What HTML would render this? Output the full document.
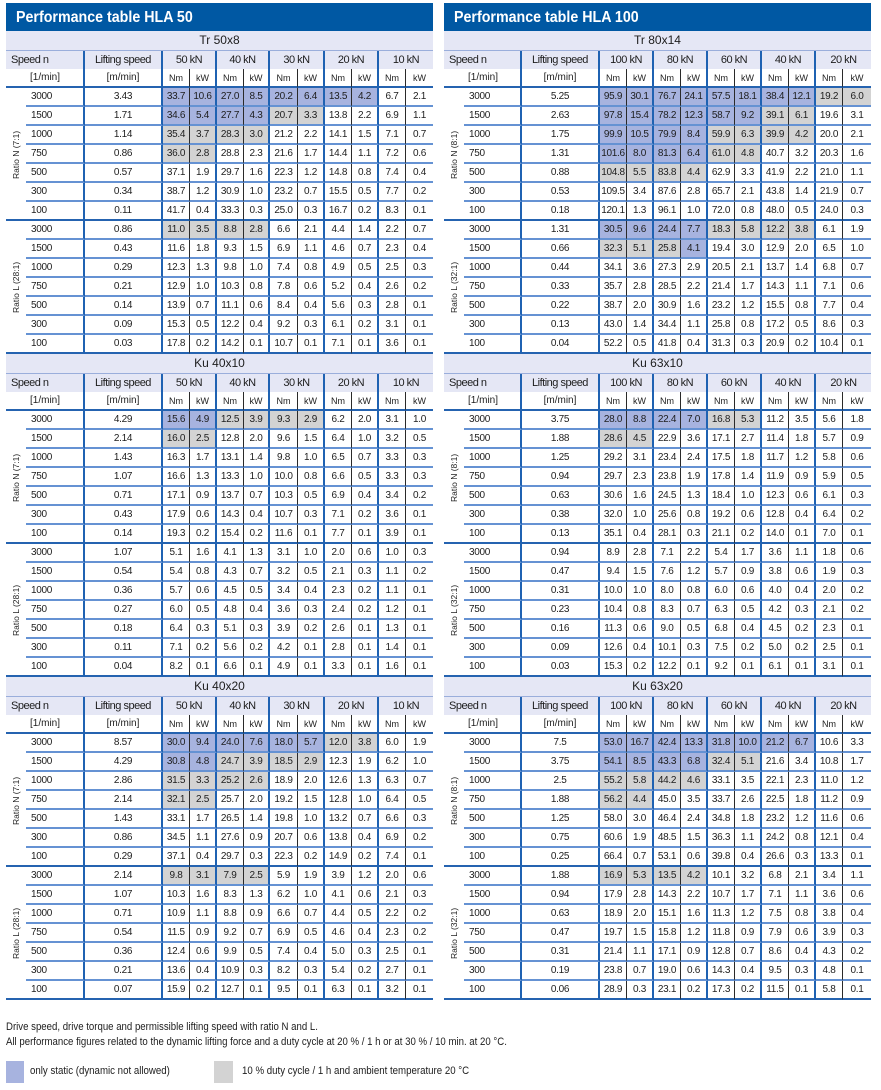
<!DOCTYPE html>
<html><head><meta charset="utf-8"><style>
html,body{margin:0;padding:0}
body{width:881px;height:1090px;overflow:hidden;background:#fff;position:relative;font-family:"Liberation Sans",Arial,sans-serif;color:#1d1d1d}
.T{position:absolute;top:3px;width:427px}
.L{left:6px}.R{left:444px}
.h{height:28px;background:#0058a3;color:#fff;font-weight:bold;font-size:16px;line-height:29px;padding-left:10px;box-sizing:border-box;white-space:nowrap}
.h span{display:inline-block;transform:scaleX(.89);transform-origin:left center}
.s{height:19px;background:#e5e7f5;text-align:center;font-size:12px;line-height:19px}
.hd,.u,.r{display:grid;height:19px}
.L .hd,.L .u,.L .r{grid-template-columns:20px 59px 78px 27px 27px 27px 26px 28px 27px 27px 27px 27px 27px}
.R .hd,.R .u,.R .r{grid-template-columns:20px 58px 78px 27px 27px 27px 27px 27px 27px 27px 27px 27px 28px}
.hd{background:#e5e7f5;border-top:1px solid #9aaedb;box-sizing:border-box;font-size:11px;letter-spacing:-.5px;line-height:18px}
.hd>*{font-style:normal;grid-column:span 2;text-align:center;border-right:2px solid #1f62b2}
.hd>:first-child{text-align:left;padding-left:5px}
.hd>:nth-child(2){grid-column:span 1}
.hd>:last-child{border-right:none}
.u>*,.r>*{font-style:normal;font-weight:normal;text-decoration:none;box-sizing:border-box;height:19px;text-align:center;white-space:nowrap;overflow:visible}
.u>*{border-bottom:2px solid #2563b0;font-size:9px;line-height:18px}
.u>:nth-child(2),.u>:nth-child(3){font-size:10px}
.u>:nth-child(2){text-align:left;padding-left:4px}
.r>*{border-bottom:2px solid #6592d3;font-size:10px;line-height:18px;letter-spacing:-.3px}
.r>:first-child{border-bottom:none}
.g>.r:last-child>*{border-bottom:2px solid #2563b0}
.r>:nth-child(2){text-align:left;padding-left:5px}
.u>:nth-child(2),.u>:nth-child(3),.u>:nth-child(5),.u>:nth-child(7),.u>:nth-child(9),.u>:nth-child(11),
.r>:nth-child(2),.r>:nth-child(3),.r>:nth-child(5),.r>:nth-child(7),.r>:nth-child(9),.r>:nth-child(11){border-right:2px solid #1f62b2}
.u>:nth-child(4),.u>:nth-child(6),.u>:nth-child(8),.u>:nth-child(10),.u>:nth-child(12),
.r>:nth-child(4),.r>:nth-child(6),.r>:nth-child(8),.r>:nth-child(10),.r>:nth-child(12){border-right:1px solid #2a2a2a}
.r>b{background:#a7b3df}
.r>s{background:#d3d3d3}
.g{position:relative}
.rl{position:absolute;left:0;top:0;width:20px;height:133px;display:flex;align-items:center;justify-content:center;writing-mode:vertical-rl;transform:rotate(180deg);font-size:8.5px;white-space:nowrap;color:#222}
.fn{position:absolute;left:6px;font-size:11px;line-height:15px;white-space:nowrap;transform:scaleX(.875);transform-origin:left center}
.sq{position:absolute;top:1061px;height:22px}
.lg{position:absolute;top:1063px;font-size:11px;line-height:16px;white-space:nowrap;transform:scaleX(.88);transform-origin:left center}
</style></head><body>

<div class="T L">
<div class="h"><span>Performance table HLA 50</span></div>

<div class="s">Tr 50x8</div>
<div class="hd"><i>Speed n</i><i>Lifting speed</i><i>50 kN</i><i>40 kN</i><i>30 kN</i><i>20 kN</i><i>10 kN</i></div>
<div class="u"><i></i><i>[1/min]</i><i>[m/min]</i><i>Nm</i><i>kW</i><i>Nm</i><i>kW</i><i>Nm</i><i>kW</i><i>Nm</i><i>kW</i><i>Nm</i><i>kW</i></div>
<div class="g"><span class="rl">Ratio N (7:1)</span>
<div class="r"><i></i><i>3000</i><i>3.43</i><b>33.7</b><b>10.6</b><b>27.0</b><b>8.5</b><b>20.2</b><b>6.4</b><b>13.5</b><b>4.2</b><i>6.7</i><i>2.1</i></div>
<div class="r"><i></i><i>1500</i><i>1.71</i><b>34.6</b><b>5.4</b><b>27.7</b><b>4.3</b><s>20.7</s><s>3.3</s><i>13.8</i><i>2.2</i><i>6.9</i><i>1.1</i></div>
<div class="r"><i></i><i>1000</i><i>1.14</i><s>35.4</s><s>3.7</s><s>28.3</s><s>3.0</s><i>21.2</i><i>2.2</i><i>14.1</i><i>1.5</i><i>7.1</i><i>0.7</i></div>
<div class="r"><i></i><i>750</i><i>0.86</i><s>36.0</s><s>2.8</s><i>28.8</i><i>2.3</i><i>21.6</i><i>1.7</i><i>14.4</i><i>1.1</i><i>7.2</i><i>0.6</i></div>
<div class="r"><i></i><i>500</i><i>0.57</i><i>37.1</i><i>1.9</i><i>29.7</i><i>1.6</i><i>22.3</i><i>1.2</i><i>14.8</i><i>0.8</i><i>7.4</i><i>0.4</i></div>
<div class="r"><i></i><i>300</i><i>0.34</i><i>38.7</i><i>1.2</i><i>30.9</i><i>1.0</i><i>23.2</i><i>0.7</i><i>15.5</i><i>0.5</i><i>7.7</i><i>0.2</i></div>
<div class="r"><i></i><i>100</i><i>0.11</i><i>41.7</i><i>0.4</i><i>33.3</i><i>0.3</i><i>25.0</i><i>0.3</i><i>16.7</i><i>0.2</i><i>8.3</i><i>0.1</i></div>
</div>
<div class="g"><span class="rl">Ratio L (28:1)</span>
<div class="r"><i></i><i>3000</i><i>0.86</i><s>11.0</s><s>3.5</s><s>8.8</s><s>2.8</s><i>6.6</i><i>2.1</i><i>4.4</i><i>1.4</i><i>2.2</i><i>0.7</i></div>
<div class="r"><i></i><i>1500</i><i>0.43</i><i>11.6</i><i>1.8</i><i>9.3</i><i>1.5</i><i>6.9</i><i>1.1</i><i>4.6</i><i>0.7</i><i>2.3</i><i>0.4</i></div>
<div class="r"><i></i><i>1000</i><i>0.29</i><i>12.3</i><i>1.3</i><i>9.8</i><i>1.0</i><i>7.4</i><i>0.8</i><i>4.9</i><i>0.5</i><i>2.5</i><i>0.3</i></div>
<div class="r"><i></i><i>750</i><i>0.21</i><i>12.9</i><i>1.0</i><i>10.3</i><i>0.8</i><i>7.8</i><i>0.6</i><i>5.2</i><i>0.4</i><i>2.6</i><i>0.2</i></div>
<div class="r"><i></i><i>500</i><i>0.14</i><i>13.9</i><i>0.7</i><i>11.1</i><i>0.6</i><i>8.4</i><i>0.4</i><i>5.6</i><i>0.3</i><i>2.8</i><i>0.1</i></div>
<div class="r"><i></i><i>300</i><i>0.09</i><i>15.3</i><i>0.5</i><i>12.2</i><i>0.4</i><i>9.2</i><i>0.3</i><i>6.1</i><i>0.2</i><i>3.1</i><i>0.1</i></div>
<div class="r"><i></i><i>100</i><i>0.03</i><i>17.8</i><i>0.2</i><i>14.2</i><i>0.1</i><i>10.7</i><i>0.1</i><i>7.1</i><i>0.1</i><i>3.6</i><i>0.1</i></div>
</div>

<div class="s">Ku 40x10</div>
<div class="hd"><i>Speed n</i><i>Lifting speed</i><i>50 kN</i><i>40 kN</i><i>30 kN</i><i>20 kN</i><i>10 kN</i></div>
<div class="u"><i></i><i>[1/min]</i><i>[m/min]</i><i>Nm</i><i>kW</i><i>Nm</i><i>kW</i><i>Nm</i><i>kW</i><i>Nm</i><i>kW</i><i>Nm</i><i>kW</i></div>
<div class="g"><span class="rl">Ratio N (7:1)</span>
<div class="r"><i></i><i>3000</i><i>4.29</i><b>15.6</b><b>4.9</b><s>12.5</s><s>3.9</s><s>9.3</s><s>2.9</s><i>6.2</i><i>2.0</i><i>3.1</i><i>1.0</i></div>
<div class="r"><i></i><i>1500</i><i>2.14</i><s>16.0</s><s>2.5</s><i>12.8</i><i>2.0</i><i>9.6</i><i>1.5</i><i>6.4</i><i>1.0</i><i>3.2</i><i>0.5</i></div>
<div class="r"><i></i><i>1000</i><i>1.43</i><i>16.3</i><i>1.7</i><i>13.1</i><i>1.4</i><i>9.8</i><i>1.0</i><i>6.5</i><i>0.7</i><i>3.3</i><i>0.3</i></div>
<div class="r"><i></i><i>750</i><i>1.07</i><i>16.6</i><i>1.3</i><i>13.3</i><i>1.0</i><i>10.0</i><i>0.8</i><i>6.6</i><i>0.5</i><i>3.3</i><i>0.3</i></div>
<div class="r"><i></i><i>500</i><i>0.71</i><i>17.1</i><i>0.9</i><i>13.7</i><i>0.7</i><i>10.3</i><i>0.5</i><i>6.9</i><i>0.4</i><i>3.4</i><i>0.2</i></div>
<div class="r"><i></i><i>300</i><i>0.43</i><i>17.9</i><i>0.6</i><i>14.3</i><i>0.4</i><i>10.7</i><i>0.3</i><i>7.1</i><i>0.2</i><i>3.6</i><i>0.1</i></div>
<div class="r"><i></i><i>100</i><i>0.14</i><i>19.3</i><i>0.2</i><i>15.4</i><i>0.2</i><i>11.6</i><i>0.1</i><i>7.7</i><i>0.1</i><i>3.9</i><i>0.1</i></div>
</div>
<div class="g"><span class="rl">Ratio L (28:1)</span>
<div class="r"><i></i><i>3000</i><i>1.07</i><i>5.1</i><i>1.6</i><i>4.1</i><i>1.3</i><i>3.1</i><i>1.0</i><i>2.0</i><i>0.6</i><i>1.0</i><i>0.3</i></div>
<div class="r"><i></i><i>1500</i><i>0.54</i><i>5.4</i><i>0.8</i><i>4.3</i><i>0.7</i><i>3.2</i><i>0.5</i><i>2.1</i><i>0.3</i><i>1.1</i><i>0.2</i></div>
<div class="r"><i></i><i>1000</i><i>0.36</i><i>5.7</i><i>0.6</i><i>4.5</i><i>0.5</i><i>3.4</i><i>0.4</i><i>2.3</i><i>0.2</i><i>1.1</i><i>0.1</i></div>
<div class="r"><i></i><i>750</i><i>0.27</i><i>6.0</i><i>0.5</i><i>4.8</i><i>0.4</i><i>3.6</i><i>0.3</i><i>2.4</i><i>0.2</i><i>1.2</i><i>0.1</i></div>
<div class="r"><i></i><i>500</i><i>0.18</i><i>6.4</i><i>0.3</i><i>5.1</i><i>0.3</i><i>3.9</i><i>0.2</i><i>2.6</i><i>0.1</i><i>1.3</i><i>0.1</i></div>
<div class="r"><i></i><i>300</i><i>0.11</i><i>7.1</i><i>0.2</i><i>5.6</i><i>0.2</i><i>4.2</i><i>0.1</i><i>2.8</i><i>0.1</i><i>1.4</i><i>0.1</i></div>
<div class="r"><i></i><i>100</i><i>0.04</i><i>8.2</i><i>0.1</i><i>6.6</i><i>0.1</i><i>4.9</i><i>0.1</i><i>3.3</i><i>0.1</i><i>1.6</i><i>0.1</i></div>
</div>

<div class="s">Ku 40x20</div>
<div class="hd"><i>Speed n</i><i>Lifting speed</i><i>50 kN</i><i>40 kN</i><i>30 kN</i><i>20 kN</i><i>10 kN</i></div>
<div class="u"><i></i><i>[1/min]</i><i>[m/min]</i><i>Nm</i><i>kW</i><i>Nm</i><i>kW</i><i>Nm</i><i>kW</i><i>Nm</i><i>kW</i><i>Nm</i><i>kW</i></div>
<div class="g"><span class="rl">Ratio N (7:1)</span>
<div class="r"><i></i><i>3000</i><i>8.57</i><b>30.0</b><b>9.4</b><b>24.0</b><b>7.6</b><b>18.0</b><b>5.7</b><s>12.0</s><s>3.8</s><i>6.0</i><i>1.9</i></div>
<div class="r"><i></i><i>1500</i><i>4.29</i><b>30.8</b><b>4.8</b><s>24.7</s><s>3.9</s><s>18.5</s><s>2.9</s><i>12.3</i><i>1.9</i><i>6.2</i><i>1.0</i></div>
<div class="r"><i></i><i>1000</i><i>2.86</i><s>31.5</s><s>3.3</s><s>25.2</s><s>2.6</s><i>18.9</i><i>2.0</i><i>12.6</i><i>1.3</i><i>6.3</i><i>0.7</i></div>
<div class="r"><i></i><i>750</i><i>2.14</i><s>32.1</s><s>2.5</s><i>25.7</i><i>2.0</i><i>19.2</i><i>1.5</i><i>12.8</i><i>1.0</i><i>6.4</i><i>0.5</i></div>
<div class="r"><i></i><i>500</i><i>1.43</i><i>33.1</i><i>1.7</i><i>26.5</i><i>1.4</i><i>19.8</i><i>1.0</i><i>13.2</i><i>0.7</i><i>6.6</i><i>0.3</i></div>
<div class="r"><i></i><i>300</i><i>0.86</i><i>34.5</i><i>1.1</i><i>27.6</i><i>0.9</i><i>20.7</i><i>0.6</i><i>13.8</i><i>0.4</i><i>6.9</i><i>0.2</i></div>
<div class="r"><i></i><i>100</i><i>0.29</i><i>37.1</i><i>0.4</i><i>29.7</i><i>0.3</i><i>22.3</i><i>0.2</i><i>14.9</i><i>0.2</i><i>7.4</i><i>0.1</i></div>
</div>
<div class="g"><span class="rl">Ratio L (28:1)</span>
<div class="r"><i></i><i>3000</i><i>2.14</i><s>9.8</s><s>3.1</s><s>7.9</s><s>2.5</s><i>5.9</i><i>1.9</i><i>3.9</i><i>1.2</i><i>2.0</i><i>0.6</i></div>
<div class="r"><i></i><i>1500</i><i>1.07</i><i>10.3</i><i>1.6</i><i>8.3</i><i>1.3</i><i>6.2</i><i>1.0</i><i>4.1</i><i>0.6</i><i>2.1</i><i>0.3</i></div>
<div class="r"><i></i><i>1000</i><i>0.71</i><i>10.9</i><i>1.1</i><i>8.8</i><i>0.9</i><i>6.6</i><i>0.7</i><i>4.4</i><i>0.5</i><i>2.2</i><i>0.2</i></div>
<div class="r"><i></i><i>750</i><i>0.54</i><i>11.5</i><i>0.9</i><i>9.2</i><i>0.7</i><i>6.9</i><i>0.5</i><i>4.6</i><i>0.4</i><i>2.3</i><i>0.2</i></div>
<div class="r"><i></i><i>500</i><i>0.36</i><i>12.4</i><i>0.6</i><i>9.9</i><i>0.5</i><i>7.4</i><i>0.4</i><i>5.0</i><i>0.3</i><i>2.5</i><i>0.1</i></div>
<div class="r"><i></i><i>300</i><i>0.21</i><i>13.6</i><i>0.4</i><i>10.9</i><i>0.3</i><i>8.2</i><i>0.3</i><i>5.4</i><i>0.2</i><i>2.7</i><i>0.1</i></div>
<div class="r"><i></i><i>100</i><i>0.07</i><i>15.9</i><i>0.2</i><i>12.7</i><i>0.1</i><i>9.5</i><i>0.1</i><i>6.3</i><i>0.1</i><i>3.2</i><i>0.1</i></div>
</div>
</div>

<div class="T R">
<div class="h"><span>Performance table HLA 100</span></div>

<div class="s">Tr 80x14</div>
<div class="hd"><i>Speed n</i><i>Lifting speed</i><i>100 kN</i><i>80 kN</i><i>60 kN</i><i>40 kN</i><i>20 kN</i></div>
<div class="u"><i></i><i>[1/min]</i><i>[m/min]</i><i>Nm</i><i>kW</i><i>Nm</i><i>kW</i><i>Nm</i><i>kW</i><i>Nm</i><i>kW</i><i>Nm</i><i>kW</i></div>
<div class="g"><span class="rl">Ratio N (8:1)</span>
<div class="r"><i></i><i>3000</i><i>5.25</i><b>95.9</b><b>30.1</b><b>76.7</b><b>24.1</b><b>57.5</b><b>18.1</b><b>38.4</b><b>12.1</b><s>19.2</s><s>6.0</s></div>
<div class="r"><i></i><i>1500</i><i>2.63</i><b>97.8</b><b>15.4</b><b>78.2</b><b>12.3</b><b>58.7</b><b>9.2</b><s>39.1</s><s>6.1</s><i>19.6</i><i>3.1</i></div>
<div class="r"><i></i><i>1000</i><i>1.75</i><b>99.9</b><b>10.5</b><b>79.9</b><b>8.4</b><s>59.9</s><s>6.3</s><s>39.9</s><s>4.2</s><i>20.0</i><i>2.1</i></div>
<div class="r"><i></i><i>750</i><i>1.31</i><b>101.6</b><b>8.0</b><b>81.3</b><b>6.4</b><s>61.0</s><s>4.8</s><i>40.7</i><i>3.2</i><i>20.3</i><i>1.6</i></div>
<div class="r"><i></i><i>500</i><i>0.88</i><s>104.8</s><s>5.5</s><s>83.8</s><s>4.4</s><i>62.9</i><i>3.3</i><i>41.9</i><i>2.2</i><i>21.0</i><i>1.1</i></div>
<div class="r"><i></i><i>300</i><i>0.53</i><i>109.5</i><i>3.4</i><i>87.6</i><i>2.8</i><i>65.7</i><i>2.1</i><i>43.8</i><i>1.4</i><i>21.9</i><i>0.7</i></div>
<div class="r"><i></i><i>100</i><i>0.18</i><i>120.1</i><i>1.3</i><i>96.1</i><i>1.0</i><i>72.0</i><i>0.8</i><i>48.0</i><i>0.5</i><i>24.0</i><i>0.3</i></div>
</div>
<div class="g"><span class="rl">Ratio L (32:1)</span>
<div class="r"><i></i><i>3000</i><i>1.31</i><b>30.5</b><b>9.6</b><b>24.4</b><b>7.7</b><s>18.3</s><s>5.8</s><s>12.2</s><s>3.8</s><i>6.1</i><i>1.9</i></div>
<div class="r"><i></i><i>1500</i><i>0.66</i><s>32.3</s><s>5.1</s><s>25.8</s><b>4.1</b><i>19.4</i><i>3.0</i><i>12.9</i><i>2.0</i><i>6.5</i><i>1.0</i></div>
<div class="r"><i></i><i>1000</i><i>0.44</i><i>34.1</i><i>3.6</i><i>27.3</i><i>2.9</i><i>20.5</i><i>2.1</i><i>13.7</i><i>1.4</i><i>6.8</i><i>0.7</i></div>
<div class="r"><i></i><i>750</i><i>0.33</i><i>35.7</i><i>2.8</i><i>28.5</i><i>2.2</i><i>21.4</i><i>1.7</i><i>14.3</i><i>1.1</i><i>7.1</i><i>0.6</i></div>
<div class="r"><i></i><i>500</i><i>0.22</i><i>38.7</i><i>2.0</i><i>30.9</i><i>1.6</i><i>23.2</i><i>1.2</i><i>15.5</i><i>0.8</i><i>7.7</i><i>0.4</i></div>
<div class="r"><i></i><i>300</i><i>0.13</i><i>43.0</i><i>1.4</i><i>34.4</i><i>1.1</i><i>25.8</i><i>0.8</i><i>17.2</i><i>0.5</i><i>8.6</i><i>0.3</i></div>
<div class="r"><i></i><i>100</i><i>0.04</i><i>52.2</i><i>0.5</i><i>41.8</i><i>0.4</i><i>31.3</i><i>0.3</i><i>20.9</i><i>0.2</i><i>10.4</i><i>0.1</i></div>
</div>

<div class="s">Ku 63x10</div>
<div class="hd"><i>Speed n</i><i>Lifting speed</i><i>100 kN</i><i>80 kN</i><i>60 kN</i><i>40 kN</i><i>20 kN</i></div>
<div class="u"><i></i><i>[1/min]</i><i>[m/min]</i><i>Nm</i><i>kW</i><i>Nm</i><i>kW</i><i>Nm</i><i>kW</i><i>Nm</i><i>kW</i><i>Nm</i><i>kW</i></div>
<div class="g"><span class="rl">Ratio N (8:1)</span>
<div class="r"><i></i><i>3000</i><i>3.75</i><b>28.0</b><b>8.8</b><b>22.4</b><b>7.0</b><s>16.8</s><s>5.3</s><i>11.2</i><i>3.5</i><i>5.6</i><i>1.8</i></div>
<div class="r"><i></i><i>1500</i><i>1.88</i><s>28.6</s><s>4.5</s><i>22.9</i><i>3.6</i><i>17.1</i><i>2.7</i><i>11.4</i><i>1.8</i><i>5.7</i><i>0.9</i></div>
<div class="r"><i></i><i>1000</i><i>1.25</i><i>29.2</i><i>3.1</i><i>23.4</i><i>2.4</i><i>17.5</i><i>1.8</i><i>11.7</i><i>1.2</i><i>5.8</i><i>0.6</i></div>
<div class="r"><i></i><i>750</i><i>0.94</i><i>29.7</i><i>2.3</i><i>23.8</i><i>1.9</i><i>17.8</i><i>1.4</i><i>11.9</i><i>0.9</i><i>5.9</i><i>0.5</i></div>
<div class="r"><i></i><i>500</i><i>0.63</i><i>30.6</i><i>1.6</i><i>24.5</i><i>1.3</i><i>18.4</i><i>1.0</i><i>12.3</i><i>0.6</i><i>6.1</i><i>0.3</i></div>
<div class="r"><i></i><i>300</i><i>0.38</i><i>32.0</i><i>1.0</i><i>25.6</i><i>0.8</i><i>19.2</i><i>0.6</i><i>12.8</i><i>0.4</i><i>6.4</i><i>0.2</i></div>
<div class="r"><i></i><i>100</i><i>0.13</i><i>35.1</i><i>0.4</i><i>28.1</i><i>0.3</i><i>21.1</i><i>0.2</i><i>14.0</i><i>0.1</i><i>7.0</i><i>0.1</i></div>
</div>
<div class="g"><span class="rl">Ratio L (32:1)</span>
<div class="r"><i></i><i>3000</i><i>0.94</i><i>8.9</i><i>2.8</i><i>7.1</i><i>2.2</i><i>5.4</i><i>1.7</i><i>3.6</i><i>1.1</i><i>1.8</i><i>0.6</i></div>
<div class="r"><i></i><i>1500</i><i>0.47</i><i>9.4</i><i>1.5</i><i>7.6</i><i>1.2</i><i>5.7</i><i>0.9</i><i>3.8</i><i>0.6</i><i>1.9</i><i>0.3</i></div>
<div class="r"><i></i><i>1000</i><i>0.31</i><i>10.0</i><i>1.0</i><i>8.0</i><i>0.8</i><i>6.0</i><i>0.6</i><i>4.0</i><i>0.4</i><i>2.0</i><i>0.2</i></div>
<div class="r"><i></i><i>750</i><i>0.23</i><i>10.4</i><i>0.8</i><i>8.3</i><i>0.7</i><i>6.3</i><i>0.5</i><i>4.2</i><i>0.3</i><i>2.1</i><i>0.2</i></div>
<div class="r"><i></i><i>500</i><i>0.16</i><i>11.3</i><i>0.6</i><i>9.0</i><i>0.5</i><i>6.8</i><i>0.4</i><i>4.5</i><i>0.2</i><i>2.3</i><i>0.1</i></div>
<div class="r"><i></i><i>300</i><i>0.09</i><i>12.6</i><i>0.4</i><i>10.1</i><i>0.3</i><i>7.5</i><i>0.2</i><i>5.0</i><i>0.2</i><i>2.5</i><i>0.1</i></div>
<div class="r"><i></i><i>100</i><i>0.03</i><i>15.3</i><i>0.2</i><i>12.2</i><i>0.1</i><i>9.2</i><i>0.1</i><i>6.1</i><i>0.1</i><i>3.1</i><i>0.1</i></div>
</div>

<div class="s">Ku 63x20</div>
<div class="hd"><i>Speed n</i><i>Lifting speed</i><i>100 kN</i><i>80 kN</i><i>60 kN</i><i>40 kN</i><i>20 kN</i></div>
<div class="u"><i></i><i>[1/min]</i><i>[m/min]</i><i>Nm</i><i>kW</i><i>Nm</i><i>kW</i><i>Nm</i><i>kW</i><i>Nm</i><i>kW</i><i>Nm</i><i>kW</i></div>
<div class="g"><span class="rl">Ratio N (8:1)</span>
<div class="r"><i></i><i>3000</i><i>7.5</i><b>53.0</b><b>16.7</b><b>42.4</b><b>13.3</b><b>31.8</b><b>10.0</b><b>21.2</b><b>6.7</b><i>10.6</i><i>3.3</i></div>
<div class="r"><i></i><i>1500</i><i>3.75</i><b>54.1</b><b>8.5</b><b>43.3</b><b>6.8</b><s>32.4</s><s>5.1</s><i>21.6</i><i>3.4</i><i>10.8</i><i>1.7</i></div>
<div class="r"><i></i><i>1000</i><i>2.5</i><s>55.2</s><s>5.8</s><s>44.2</s><s>4.6</s><i>33.1</i><i>3.5</i><i>22.1</i><i>2.3</i><i>11.0</i><i>1.2</i></div>
<div class="r"><i></i><i>750</i><i>1.88</i><s>56.2</s><s>4.4</s><i>45.0</i><i>3.5</i><i>33.7</i><i>2.6</i><i>22.5</i><i>1.8</i><i>11.2</i><i>0.9</i></div>
<div class="r"><i></i><i>500</i><i>1.25</i><i>58.0</i><i>3.0</i><i>46.4</i><i>2.4</i><i>34.8</i><i>1.8</i><i>23.2</i><i>1.2</i><i>11.6</i><i>0.6</i></div>
<div class="r"><i></i><i>300</i><i>0.75</i><i>60.6</i><i>1.9</i><i>48.5</i><i>1.5</i><i>36.3</i><i>1.1</i><i>24.2</i><i>0.8</i><i>12.1</i><i>0.4</i></div>
<div class="r"><i></i><i>100</i><i>0.25</i><i>66.4</i><i>0.7</i><i>53.1</i><i>0.6</i><i>39.8</i><i>0.4</i><i>26.6</i><i>0.3</i><i>13.3</i><i>0.1</i></div>
</div>
<div class="g"><span class="rl">Ratio L (32:1)</span>
<div class="r"><i></i><i>3000</i><i>1.88</i><s>16.9</s><s>5.3</s><s>13.5</s><s>4.2</s><i>10.1</i><i>3.2</i><i>6.8</i><i>2.1</i><i>3.4</i><i>1.1</i></div>
<div class="r"><i></i><i>1500</i><i>0.94</i><i>17.9</i><i>2.8</i><i>14.3</i><i>2.2</i><i>10.7</i><i>1.7</i><i>7.1</i><i>1.1</i><i>3.6</i><i>0.6</i></div>
<div class="r"><i></i><i>1000</i><i>0.63</i><i>18.9</i><i>2.0</i><i>15.1</i><i>1.6</i><i>11.3</i><i>1.2</i><i>7.5</i><i>0.8</i><i>3.8</i><i>0.4</i></div>
<div class="r"><i></i><i>750</i><i>0.47</i><i>19.7</i><i>1.5</i><i>15.8</i><i>1.2</i><i>11.8</i><i>0.9</i><i>7.9</i><i>0.6</i><i>3.9</i><i>0.3</i></div>
<div class="r"><i></i><i>500</i><i>0.31</i><i>21.4</i><i>1.1</i><i>17.1</i><i>0.9</i><i>12.8</i><i>0.7</i><i>8.6</i><i>0.4</i><i>4.3</i><i>0.2</i></div>
<div class="r"><i></i><i>300</i><i>0.19</i><i>23.8</i><i>0.7</i><i>19.0</i><i>0.6</i><i>14.3</i><i>0.4</i><i>9.5</i><i>0.3</i><i>4.8</i><i>0.1</i></div>
<div class="r"><i></i><i>100</i><i>0.06</i><i>28.9</i><i>0.3</i><i>23.1</i><i>0.2</i><i>17.3</i><i>0.2</i><i>11.5</i><i>0.1</i><i>5.8</i><i>0.1</i></div>
</div>
</div>

<div class="fn" style="top:1020px">Drive speed, drive torque and permissible lifting speed with ratio N and L.</div>
<div class="fn" style="top:1035px">All performance figures related to the dynamic lifting force and a duty cycle at 20 % / 1 h or at 30 % / 10 min. at 20 °C.</div>

<div class="sq" style="left:6px;width:18px;background:#a7b3df"></div>
<div class="lg" style="left:30px">only static (dynamic not allowed)</div>
<div class="sq" style="left:214px;width:19px;background:#d3d3d3"></div>
<div class="lg" style="left:242px">10 % duty cycle / 1 h and ambient temperature 20 °C</div>

</body></html>
